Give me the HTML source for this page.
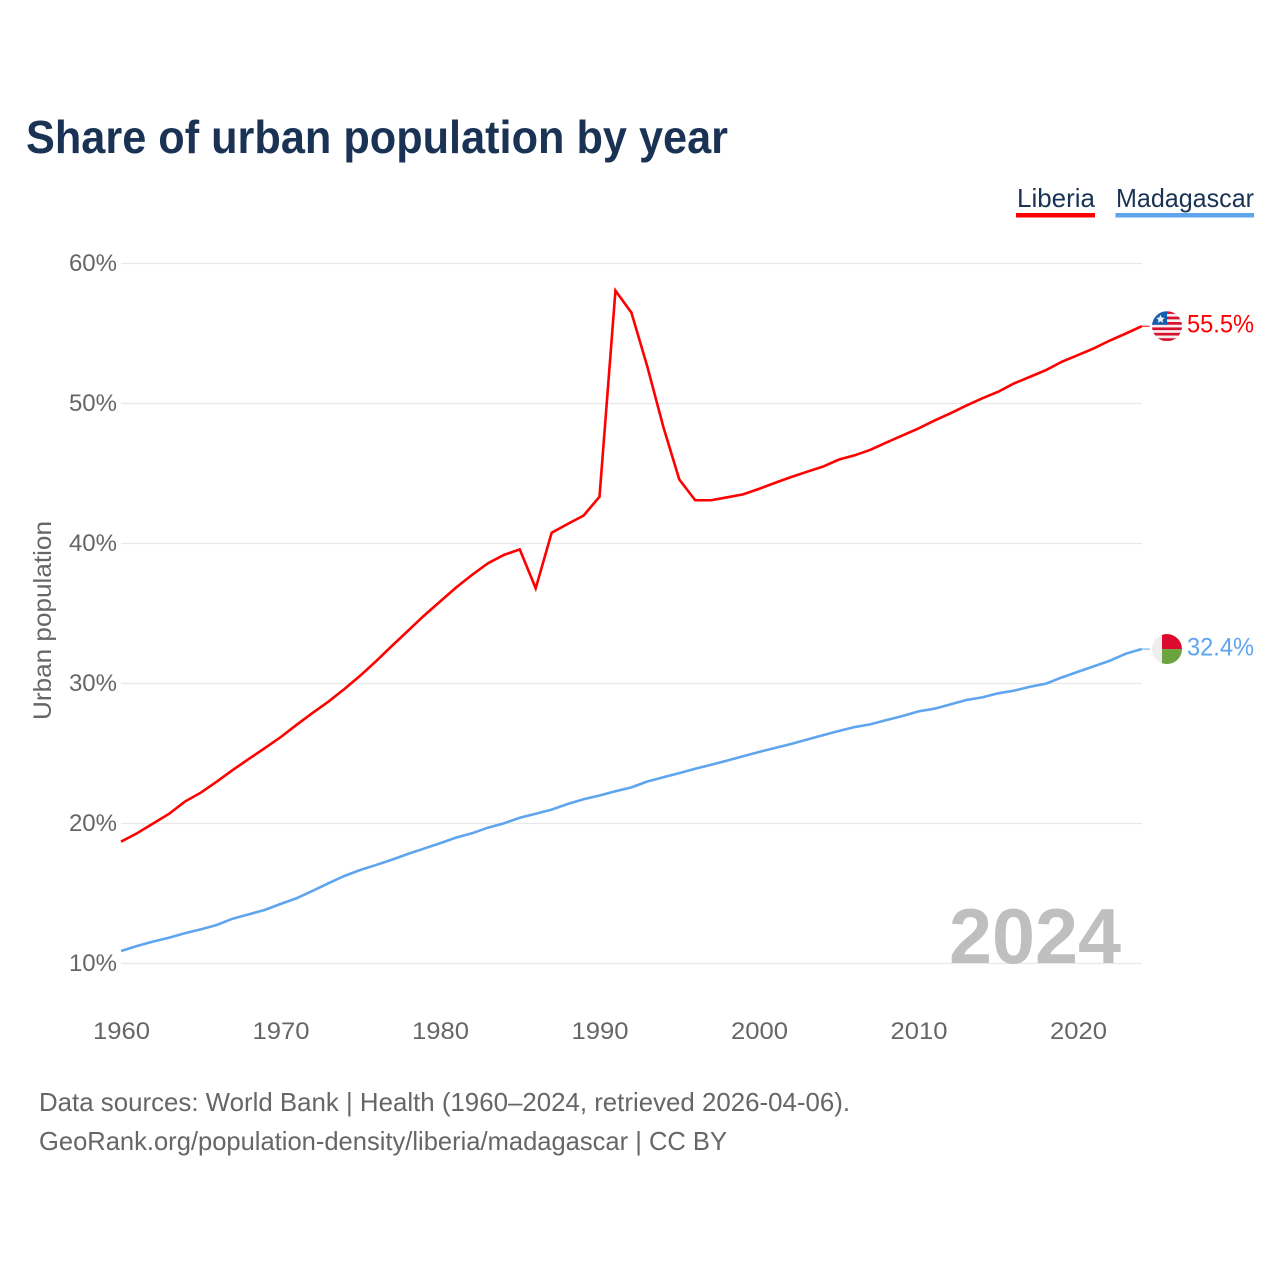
<!DOCTYPE html>
<html lang="en">
<head>
<meta charset="utf-8">
<title>Share of urban population by year</title>
<style>
html,body{margin:0;padding:0;background:#fff;}
svg{display:block;font-family:"Liberation Sans",sans-serif;}
</style>
</head>
<body>
<svg id="chart" width="1280" height="1280" viewBox="0 0 1280 1280" xmlns="http://www.w3.org/2000/svg">
<defs>
<clipPath id="flag-clip"><circle cx="0" cy="0" r="15"/></clipPath>
</defs>
<rect x="0" y="0" width="1280" height="1280" fill="#fff"/>
<text x="26" y="153" font-size="46" font-weight="700" fill="#1a3354" textLength="702" lengthAdjust="spacingAndGlyphs">Share of urban population by year</text>

<g>
<text x="1017" y="207" font-size="26" fill="#1a3354" textLength="78" lengthAdjust="spacingAndGlyphs">Liberia</text>
<rect x="1016" y="213" width="79" height="4.5" fill="#ff0000"/>
</g>
<g>
<text x="1116" y="207" font-size="26" fill="#1a3354" textLength="138" lengthAdjust="spacingAndGlyphs">Madagascar</text>
<rect x="1115.5" y="213" width="138.5" height="4.5" fill="#5fa5ee"/>
</g>

<g id="grid"></g>
<g id="y-ticks"></g>
<g id="x-ticks"></g>
<text transform="translate(51 620.5) rotate(-90)" text-anchor="middle" font-size="25" fill="#666" textLength="199" lengthAdjust="spacingAndGlyphs">Urban population</text>
<text x="949" y="963" font-size="78" font-weight="700" fill="#bfbfbf" textLength="172" lengthAdjust="spacingAndGlyphs">2024</text>

<g id="series"></g>

<g id="flag-liberia">
<g clip-path="url(#flag-clip)">
<rect x="-15" y="-15" width="30" height="30" fill="#f6f0f0"/>
<rect x="-15" y="-15" width="30" height="2.7" fill="#d8102f"/>
<rect x="-15" y="-9.6" width="30" height="2.7" fill="#d8102f"/>
<rect x="-15" y="-4.2" width="30" height="2.7" fill="#d8102f"/>
<rect x="-15" y="1.2" width="30" height="2.7" fill="#d8102f"/>
<rect x="-15" y="6.6" width="30" height="2.7" fill="#d8102f"/>
<rect x="-15" y="12" width="30" height="2.7" fill="#d8102f"/>
<rect x="-15" y="-15" width="15" height="13.5" fill="#0f5fb5"/>
<polygon points="-6.5,-11.5 -5.2,-8.6 -2.2,-8.4 -4.5,-6.4 -3.8,-3.4 -6.5,-5 -9.2,-3.4 -8.5,-6.4 -10.8,-8.4 -7.8,-8.6" fill="#f2f2f2"/>
</g>
</g>
<g id="flag-madagascar">
<g clip-path="url(#flag-clip)">
<rect x="-15" y="-15" width="30" height="30" fill="#eeeeee"/>
<rect x="-5" y="-15" width="20" height="15" fill="#dc0a2f"/>
<rect x="-5" y="0" width="20" height="15" fill="#6aa33f"/>
</g>
</g>
<g id="end-labels"></g>

<text x="39" y="1111" font-size="26" fill="#666" textLength="811" lengthAdjust="spacingAndGlyphs">Data sources: World Bank | Health (1960–2024, retrieved 2026-04-06).</text>
<text x="39" y="1150" font-size="26" fill="#666" textLength="688" lengthAdjust="spacingAndGlyphs">GeoRank.org/population-density/liberia/madagascar | CC BY</text>
</svg>
<script>
const firstYear = 1960;
const liberiaValues = [18.70,19.30,19.99,20.68,21.56,22.20,22.99,23.82,24.60,25.37,26.16,27.04,27.89,28.70,29.60,30.56,31.60,32.70,33.77,34.85,35.85,36.85,37.75,38.58,39.18,39.58,36.80,40.77,41.39,41.99,43.34,58.06,56.49,52.63,48.34,44.58,43.09,43.09,43.30,43.51,43.90,44.33,44.74,45.12,45.49,45.99,46.30,46.70,47.22,47.72,48.22,48.78,49.30,49.85,50.37,50.84,51.44,51.91,52.39,52.99,53.46,53.94,54.50,55.00,55.52];
const madagascarValues = [10.89,11.25,11.56,11.84,12.16,12.44,12.75,13.20,13.51,13.82,14.25,14.66,15.18,15.73,16.25,16.68,17.04,17.42,17.83,18.21,18.59,18.99,19.30,19.70,20.01,20.41,20.70,20.99,21.39,21.73,22.00,22.30,22.58,23.00,23.30,23.60,23.91,24.20,24.49,24.80,25.11,25.39,25.68,25.99,26.30,26.61,26.89,27.09,27.39,27.68,28.01,28.20,28.51,28.82,29.01,29.30,29.49,29.77,29.99,30.44,30.84,31.23,31.63,32.13,32.46];
const yTickValues = [10,20,30,40,50,60];
const xTickYears = [1960,1970,1980,1990,2000,2010,2020];
const endLabelValues = [55.5,32.4];

const NS = 'http://www.w3.org/2000/svg';
const xAxis = year => 121 + (year - 1960) * 15.95;
const yAxis = value => 963.5 - (value - 10) * 14;
const plotLeft = xAxis(1960);
const plotRight = xAxis(2024);

const gridGroup = document.getElementById('grid');
const yTickGroup = document.getElementById('y-ticks');
yTickValues.forEach(tick => {
  const line = document.createElementNS(NS, 'line');
  
  
  line.setAttribute('x1', plotLeft);
  line.setAttribute('x2', plotRight);
  line.setAttribute('y1', yAxis(tick));
  line.setAttribute('y2', yAxis(tick));
  line.setAttribute('stroke', '#e8e8e8');
  line.setAttribute('stroke-width', '1.3');
  gridGroup.appendChild(line);

  const label = document.createElementNS(NS, 'text');
  
  
  label.setAttribute('x', 117);
  label.setAttribute('y', yAxis(tick) + 7.5);
  label.setAttribute('text-anchor', 'end');
  label.setAttribute('font-size', '24');
  label.setAttribute('fill', '#666');
  label.textContent = tick + '%';
  yTickGroup.appendChild(label);
});

const xTickGroup = document.getElementById('x-ticks');
xTickYears.forEach(year => {
  const label = document.createElementNS(NS, 'text');
  
  
  label.setAttribute('x', xAxis(year) + 0.5);
  label.setAttribute('y', 1039);
  label.setAttribute('text-anchor', 'middle');
  label.setAttribute('font-size', '24');
  label.setAttribute('fill', '#666');
  label.setAttribute('textLength', '57');
  label.setAttribute('lengthAdjust', 'spacingAndGlyphs');
  label.textContent = year;
  xTickGroup.appendChild(label);
});

const seriesGroup = document.getElementById('series');
const endGroup = document.getElementById('end-labels');

function pathFor(values) {
  return values.map((v, i) => (i ? 'L' : 'M') + xAxis(firstYear + i).toFixed(2) + ' ' + yAxis(v).toFixed(2)).join(' ');
}

const liberiaLine = document.createElementNS(NS, 'path');


liberiaLine.setAttribute('d', pathFor(liberiaValues));
liberiaLine.setAttribute('fill', 'none');
liberiaLine.setAttribute('stroke', '#ff0000');
liberiaLine.setAttribute('stroke-width', '2.6');
liberiaLine.setAttribute('stroke-linejoin', 'miter');
seriesGroup.appendChild(liberiaLine);

const madagascarLine = document.createElementNS(NS, 'path');


madagascarLine.setAttribute('d', pathFor(madagascarValues));
madagascarLine.setAttribute('fill', 'none');
madagascarLine.setAttribute('stroke', '#5fa5ee');
madagascarLine.setAttribute('stroke-width', '2.6');
seriesGroup.appendChild(madagascarLine);

const liberiaEndY = yAxis(liberiaValues[liberiaValues.length - 1]);
const madagascarEndY = yAxis(madagascarValues[madagascarValues.length - 1]);

const liberiaLeader = document.createElementNS(NS, 'line');


liberiaLeader.setAttribute('x1', plotRight);
liberiaLeader.setAttribute('x2', plotRight + 8);
liberiaLeader.setAttribute('y1', liberiaEndY);
liberiaLeader.setAttribute('y2', liberiaEndY);
liberiaLeader.setAttribute('stroke', '#ff0000');
liberiaLeader.setAttribute('stroke-width', '1');
seriesGroup.appendChild(liberiaLeader);

const madagascarLeader = document.createElementNS(NS, 'line');


madagascarLeader.setAttribute('x1', plotRight);
madagascarLeader.setAttribute('x2', plotRight + 8);
madagascarLeader.setAttribute('y1', madagascarEndY);
madagascarLeader.setAttribute('y2', madagascarEndY);
madagascarLeader.setAttribute('stroke', '#5fa5ee');
madagascarLeader.setAttribute('stroke-width', '1');
seriesGroup.appendChild(madagascarLeader);

document.getElementById('flag-liberia').setAttribute('transform', 'translate(1167 ' + liberiaEndY + ')');
document.getElementById('flag-madagascar').setAttribute('transform', 'translate(1167 ' + madagascarEndY + ')');

const liberiaEnd = document.createElementNS(NS, 'text');


liberiaEnd.setAttribute('x', 1187);
liberiaEnd.setAttribute('y', liberiaEndY + 6.5);
liberiaEnd.setAttribute('font-size', '25');
liberiaEnd.setAttribute('fill', '#ff0000');
liberiaEnd.setAttribute('textLength', '67');
liberiaEnd.setAttribute('lengthAdjust', 'spacingAndGlyphs');
liberiaEnd.textContent = endLabelValues[0].toFixed(1) + '%';
endGroup.appendChild(liberiaEnd);

const madagascarEnd = document.createElementNS(NS, 'text');


madagascarEnd.setAttribute('x', 1187);
madagascarEnd.setAttribute('y', madagascarEndY + 6.5);
madagascarEnd.setAttribute('font-size', '25');
madagascarEnd.setAttribute('fill', '#5fa5ee');
madagascarEnd.setAttribute('textLength', '67');
madagascarEnd.setAttribute('lengthAdjust', 'spacingAndGlyphs');
madagascarEnd.textContent = endLabelValues[1].toFixed(1) + '%';
endGroup.appendChild(madagascarEnd);
</script>
</body>
</html>
